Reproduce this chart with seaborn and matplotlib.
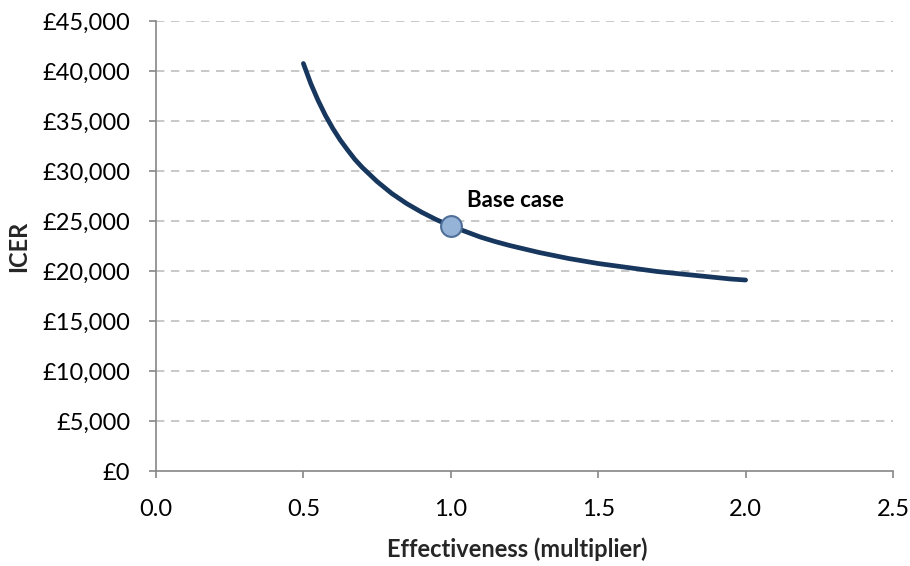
import matplotlib
matplotlib.use("Agg")
import matplotlib.pyplot as plt
import matplotlib.ticker as mticker
import seaborn as sns
import pandas as pd

# Sensitivity of the ICER to the effectiveness multiplier
effectiveness = [0.5, 0.525, 0.55, 0.575, 0.6, 0.625, 0.65, 0.675, 0.7, 0.75, 0.8,
                 0.85, 0.9, 0.95, 1.0, 1.05, 1.1, 1.15, 1.2, 1.25, 1.3, 1.35, 1.4,
                 1.45, 1.5, 1.55, 1.6, 1.65, 1.7, 1.75, 1.8, 1.85, 1.9, 1.95, 2.0]
icer = [40750, 38750, 37050, 35550, 34250, 33100, 32100, 31150, 30350, 28950, 27750,
        26750, 25900, 25150, 24500, 23950, 23400, 22950, 22550, 22200, 21850, 21550,
        21250, 21000, 20750, 20550, 20350, 20150, 19950, 19800, 19650, 19500, 19350,
        19200, 19100]
base_x = 1.0
base_y = 24500
base_label = "Base case"

sns.set_theme(style="white")
plt.rcParams["font.family"] = ["Lato", "DejaVu Sans"]

df = pd.DataFrame({"Effectiveness (multiplier)": effectiveness, "ICER": icer})

fig = plt.figure(figsize=(9.10, 5.66), dpi=100)
ax = fig.add_axes([0.1714, 0.1678, 0.8099, 0.7951])

ax.set_xlim(0, 2.5)
ax.set_ylim(0, 45000)
ax.yaxis.set_major_locator(mticker.MultipleLocator(5000))
ax.xaxis.set_major_locator(mticker.MultipleLocator(0.5))
ax.yaxis.set_major_formatter(mticker.FuncFormatter(lambda v, p: f"£{v:,.0f}"))
ax.xaxis.set_major_formatter(mticker.FormatStrFormatter("%.1f"))

# dashed horizontal gridlines
for v in range(5000, 45001, 5000):
    ax.axhline(v, color="#BFBFBF", lw=1.2, ls=(0, (5, 4)), zorder=0)

sns.lineplot(data=df, x="Effectiveness (multiplier)", y="ICER", ax=ax,
             color="#17375E", lw=3.4, zorder=3, solid_capstyle="round",
             solid_joinstyle="round")
ax.plot([base_x], [base_y], marker="o", ms=15, mfc="#95B3D7", mec="#4F6F99",
        mew=1.5, zorder=4, ls="none")
ax.text(1.055, 27100, base_label, fontsize=16, fontweight="bold",
        ha="left", va="center", color="black")

for side in ["top", "right"]:
    ax.spines[side].set_visible(False)
for side in ["left", "bottom"]:
    ax.spines[side].set_color("#868686")
    ax.spines[side].set_linewidth(1.2)

ax.tick_params(axis="both", which="major", direction="out", length=5, width=1.2,
               color="#868686", labelsize=17, labelcolor="black")
ax.tick_params(axis="y", pad=13.5)
ax.tick_params(axis="x", pad=15)
ax.yaxis.set_ticks_position("left")
ax.xaxis.set_ticks_position("bottom")

ax.set_xlabel("Effectiveness (multiplier)", fontsize=17, fontweight="bold", labelpad=14)
ax.set_ylabel("ICER", fontsize=17, fontweight="bold")
ax.yaxis.set_label_coords(-0.171, 0.5)
ax.xaxis.set_label_coords(0.49, -0.148)

fig.savefig("out.png", dpi=100)
